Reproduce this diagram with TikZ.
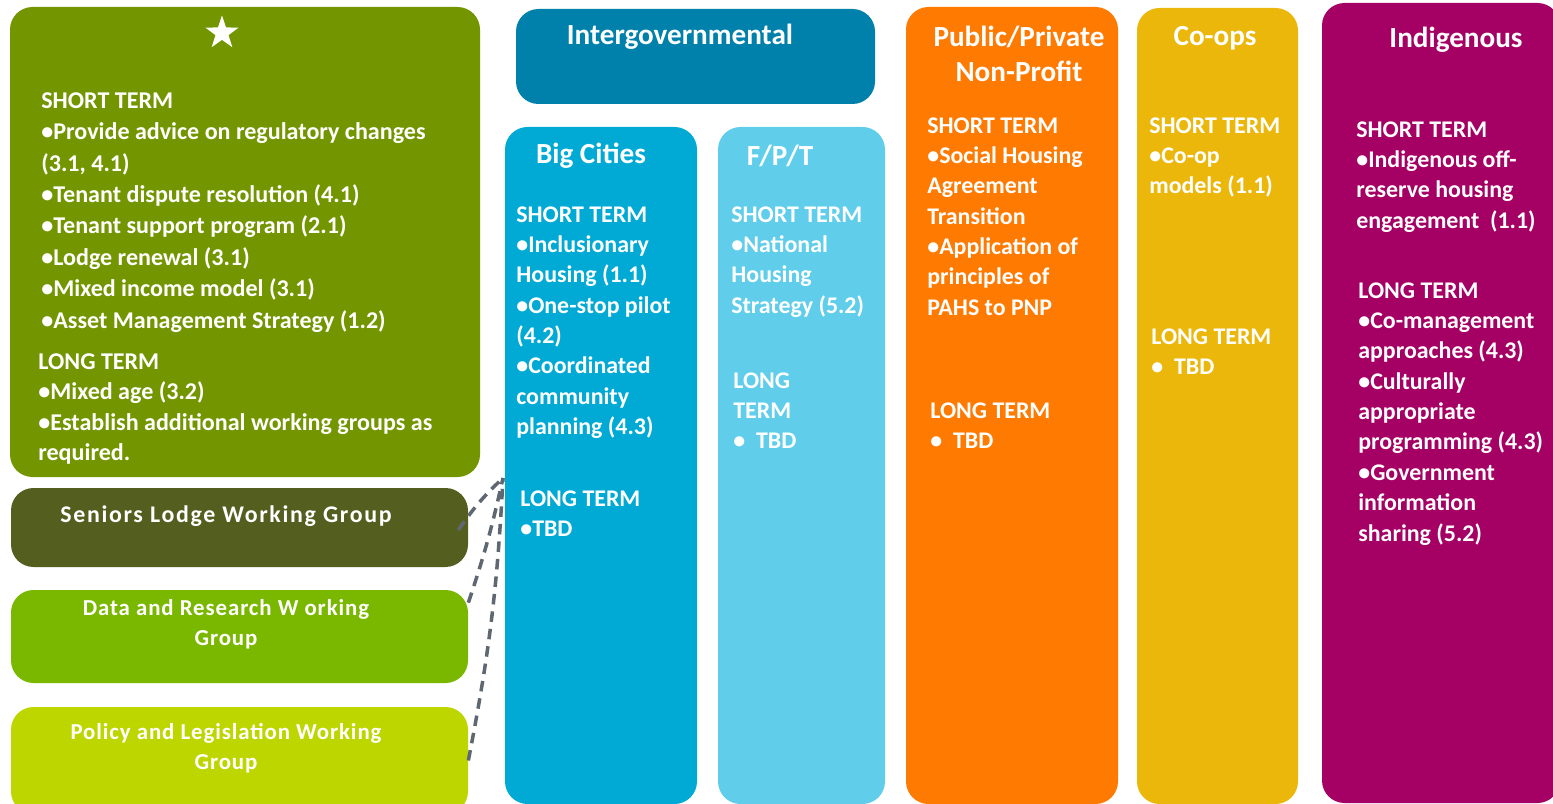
\documentclass[tikz,border=0pt]{standalone}
\usepackage{fontspec}
\setmainfont{Carlito}
\usetikzlibrary{fit,shapes.geometric}
\definecolor{hsolive}{HTML}{739600}
\definecolor{hsmoss}{HTML}{545E1F}
\definecolor{hsleaf}{HTML}{7AB800}
\definecolor{hslime}{HTML}{BED600}
\definecolor{hsteal}{HTML}{0081AB}
\definecolor{hscyan}{HTML}{00AAD4}
\definecolor{hssky}{HTML}{60CEEA}
\definecolor{hsorange}{HTML}{FF7A00}
\definecolor{hsgold}{HTML}{EBB70A}
\definecolor{hsplum}{HTML}{A50064}
\definecolor{hsdash}{HTML}{5F6870}

\begin{document}
\begin{tikzpicture}[x=0.02cm,y=-0.02cm,
  panel/.style={fill=#1,rounded corners=0.45cm,inner sep=0pt},
  head/.style={text=white,align=center,font=\fontsize{16.6}{19.5}\selectfont\bfseries},
  body/.style={text=white,anchor=north west,align=left,inner sep=0pt,
    font=\fontsize{13.6}{17.3}\selectfont\bfseries},
  wg/.style={text=white,align=center,
    font=\fontsize{13}{17}\selectfont\bfseries\addfontfeature{LetterSpace=4}},
  link/.style={draw=hsdash,line width=2pt,dash pattern=on 6pt off 4pt}]
  \useasboundingbox (0,0) rectangle (1553,804);
  % panels
  \node[panel=hsolive,fit={(10,7)(480,477)}] (advisory) {};
  \node[panel=hsmoss,fit={(11,488)(468,567)}] (senior) {};
  \node[panel=hsleaf,fit={(11,590)(468,683)}] (data) {};
  \node[panel=hslime,fit={(11,707)(468,814)}] (policy) {};
  \node[panel=hsteal,fit={(516,9)(875,104)}] (intergov) {};
  \node[panel=hscyan,fit={(505,127)(697,804)}] (cities) {};
  \node[panel=hssky,fit={(718,127)(885,804)}] (fpt) {};
  \node[panel=hsorange,fit={(906,7)(1118,804)}] (pnp) {};
  \node[panel=hsgold,fit={(1137,8)(1298,804)}] (coops) {};
  \node[panel=hsplum,fit={(1322,3)(1560,803)}] (indig) {};
  % links to the big cities column
  \coordinate (hub) at (503,478);
  \draw[link] ([xshift=-0.2cm,yshift=-0.05cm]senior.east) to[bend left=6] (hub);
  \draw[link] ([yshift=-0.26cm]data.north east) to[bend right=3] (hub);
  \draw[link] (policy.east) to[bend right=4] (hub);
  % headings
  \node[star,star points=5,star point ratio=2.55,fill=white,inner sep=0pt,
    minimum size=0.7cm] (emblem) at (222,33) {};
  \node[head] (intergovT) at (680,37) {Intergovernmental};
  \node[head] (citiesT) at (591,156) {Big Cities};
  \node[head] (fptT) at (780,156) {F/P/T};
  \node[head] (pnpT) at (1019,54) {Public/Private\\Non-Profit};
  \node[head] (coopsT) at (1215,38) {Co-ops};
  \node[head] (indigT) at (1456,40) {Indigenous};
  % working groups
  \node[wg,font=\fontsize{13.6}{17}\selectfont\bfseries\addfontfeature{LetterSpace=7}]
    (seniorT) at (226,516) {Seniors Lodge Working Group};
  \node[wg] (dataT) at (226,624) {Data and Research W orking\\Group};
  \node[wg] (policyT) at (226,748) {Policy and Legislation Working\\Group};
  % column texts
  \node[body,font=\fontsize{13.7}{17.9}\selectfont\bfseries] (advShort) at (41,92)
    {SHORT TERM\\
     •Provide advice on regulatory changes\\
     (3.1, 4.1)\\
     •Tenant dispute resolution (4.1)\\
     •Tenant support program (2.1)\\
     •Lodge renewal (3.1)\\
     •Mixed income model (3.1)\\
     •Asset Management Strategy (1.2)};
  \node[body,font=\fontsize{13.7}{17.4}\selectfont\bfseries] (advLong) at (38,353)
    {LONG TERM\\
     •Mixed age (3.2)\\
     •Establish additional working groups as\\
     required.};
  \node[body] (citiesShort) at (516,206)
    {SHORT TERM\\ •Inclusionary\\ Housing (1.1)\\ •One-stop pilot\\ (4.2)\\
     •Coordinated\\ community\\ planning (4.3)};
  \node[body] (citiesLong) at (520,490) {LONG TERM\\ •TBD};
  \node[body] (fptShort) at (731,206)
    {SHORT TERM\\ •National\\ Housing\\ Strategy (5.2)};
  \node[body] (fptLong) at (733,372) {LONG\\ TERM\\ •\ \ TBD};
  \node[body] (pnpShort) at (927,117)
    {SHORT TERM\\ •Social Housing\\ Agreement\\ Transition\\ •Application of\\
     principles of\\ PAHS to PNP};
  \node[body] (pnpLong) at (930,402) {LONG TERM\\ •\ \ TBD};
  \node[body] (coopsShort) at (1149,117) {SHORT TERM\\ •Co-op\\ models (1.1)};
  \node[body] (coopsLong) at (1151,328) {LONG TERM\\ •\ \ TBD};
  \node[body] (indigShort) at (1356,121)
    {SHORT TERM\\ •Indigenous off-\\ reserve housing\\ engagement\ \ (1.1)};
  \node[body] (indigLong) at (1358,282)
    {LONG TERM\\ •Co-management\\ approaches (4.3)\\ •Culturally\\ appropriate\\
     programming (4.3)\\ •Government\\ information\\ sharing (5.2)};
\end{tikzpicture}
\end{document}
